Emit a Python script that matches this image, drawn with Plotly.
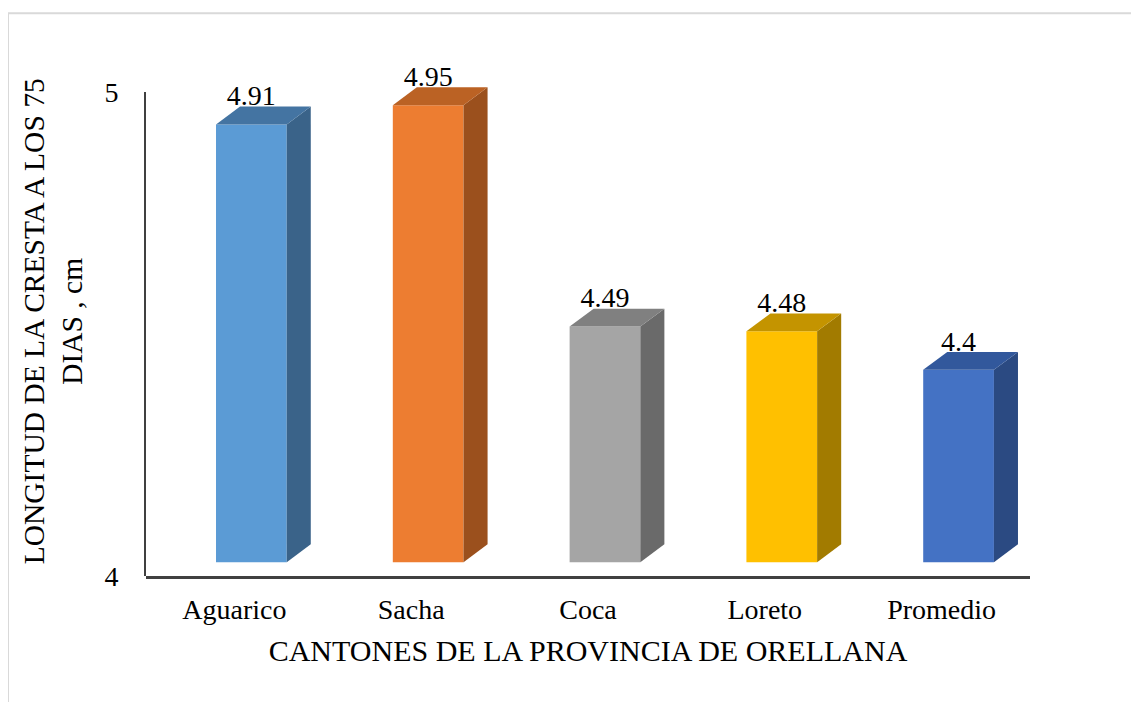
import plotly.graph_objects as go

cantones = ['Aguarico', 'Sacha', 'Coca', 'Loreto', 'Promedio']
longitud = [4.91, 4.95, 4.49, 4.48, 4.4]

front_colors = ['#5B9BD5', '#ED7D31', '#A5A5A5', '#FFC000', '#4472C4']
top_colors = ['#4474A2', '#BB6224', '#808080', '#C49400', '#32589C']
side_colors = ['#3A6389', '#9B501D', '#6A6A6A', '#A27B00', '#2B4A82']

base = 4
bar_w = 0.4
bar_off = -0.104
dx = 0.136   # profundidad 3D en x
dy = 0.037   # profundidad 3D en y
pos = list(range(len(cantones)))

FONT = 'Liberation Serif'

fig = go.Figure()

# cara frontal
fig.add_trace(go.Bar(
    x=pos, y=[v - base for v in longitud], base=base,
    width=bar_w, offset=bar_off,
    marker=dict(color=front_colors, line=dict(width=0)),
    showlegend=False, hoverinfo='skip'
))

# caras lateral y superior
for i, v in enumerate(longitud):
    xl = i + bar_off
    xr = xl + bar_w
    fig.add_trace(go.Scatter(
        x=[xr, xr + dx, xr + dx, xr, xr],
        y=[base, base + dy, v + dy, v, base],
        fill='toself', fillcolor=side_colors[i], mode='lines',
        line=dict(width=0, color=side_colors[i]),
        showlegend=False, hoverinfo='skip'
    ))
    fig.add_trace(go.Scatter(
        x=[xl, xl + dx, xr + dx, xr, xl],
        y=[v, v + dy, v + dy, v, v],
        fill='toself', fillcolor=top_colors[i], mode='lines',
        line=dict(width=0, color=top_colors[i]),
        showlegend=False, hoverinfo='skip'
    ))

# etiquetas de datos
fig.add_trace(go.Scatter(
    x=[i + bar_off + bar_w / 2 for i in pos],
    y=[v + 0.054 for v in longitud],
    mode='text', text=[str(v) for v in longitud],
    textposition='middle center',
    textfont=dict(family=FONT, size=28, color='black'),
    cliponaxis=False, showlegend=False, hoverinfo='skip'
))

# eje visible de valores
fig.add_trace(go.Scatter(x=[], y=[], yaxis='y2', showlegend=False))

fig.update_layout(
    width=1131, height=694,
    margin=dict(l=138, r=109, t=22, b=126),
    paper_bgcolor='white', plot_bgcolor='rgba(0,0,0,0)',
    font=dict(family=FONT, size=28, color='black'),
    xaxis=dict(
        range=[-0.5, 4.5], tickvals=pos, ticktext=cantones,
        showline=True, linecolor='#404040', linewidth=3,
        showgrid=False, zeroline=False, ticks='',
        ticklabelstandoff=6,
        title=dict(text='CANTONES DE LA PROVINCIA DE ORELLANA',
                   font=dict(size=30), standoff=17),
    ),
    yaxis=dict(range=[3.9712, 5.0958], visible=False, fixedrange=True),
    yaxis2=dict(
        domain=[0, 0.8938], anchor='x', range=[4, 5], tickvals=[4, 5],
        showline=True, linecolor='#404040', linewidth=2,
        showgrid=False, zeroline=False, ticks='',
        ticklabelstandoff=20,
    ),
    annotations=[dict(
        text='LONGITUD DE LA CRESTA A LOS 75<br>DIAS , cm',
        xref='paper', yref='paper', x=-0.105, y=0.471,
        xanchor='center', yanchor='middle',
        textangle=-90, showarrow=False,
        font=dict(family=FONT, size=29.5, color='black'),
    )],
    shapes=[
        dict(type='line', xref='paper', yref='paper', x0=-0.1561, x1=1.2,
             y0=1.0403, y1=1.0403, line=dict(color='#D9D9D9', width=2)),
        dict(type='line', xref='paper', yref='paper', x0=-0.1561, x1=-0.1561,
             y0=-0.3, y1=1.0403, line=dict(color='#D9D9D9', width=2)),
    ],
)

fig.write_html('out.html')
